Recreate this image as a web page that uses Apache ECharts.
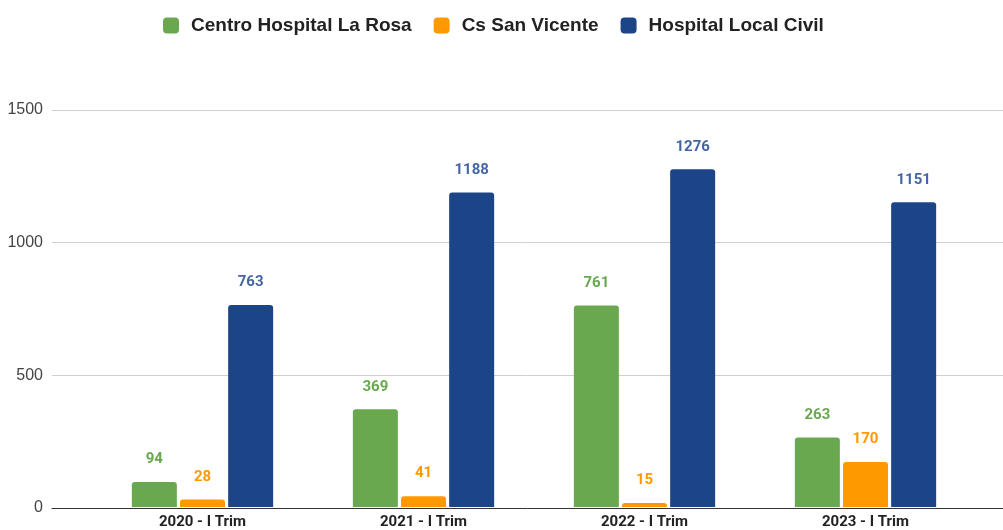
<!DOCTYPE html>
<html>
<head>
<meta charset="utf-8">
<script src="https://cdn.jsdelivr.net/npm/echarts@6/dist/echarts.min.js"></script>
<style>
html,body{margin:0;padding:0;background:#fff;}
#main{width:1003px;height:530px;}
</style>
</head>
<body>
<div id="main"></div>
<script>
var categories = ['2020 - I Trim', '2021 - I Trim', '2022 - I Trim', '2023 - I Trim'];
var seriesNames = ['Centro Hospital La Rosa', 'Cs San Vicente', 'Hospital Local Civil'];
var laRosa = [94, 369, 761, 263];
var sanVicente = [28, 41, 15, 170];
var localCivil = [763, 1188, 1276, 1151];
var yTicks = [0, 500, 1000, 1500];

var colors = ['#6aa84f', '#ff9900', '#1c4587'];
var labelColors = ['#6aa84f', '#ff9900', '#4666a3'];
var font = 'Roboto, "Liberation Sans", Arial, sans-serif';
var arial = '"Liberation Sans", Arial, sans-serif';

var myChart = echarts.init(document.getElementById('main'));

function barSeries(i, data){
	return {
		name: seriesNames[i],
		type: 'bar',
		xAxisIndex: 1,
		yAxisIndex: 1,
		barWidth: 45,
		barGap: '7%',
		itemStyle: {
			color: colors[i],
			borderRadius: [3, 3, 0, 0]
		},
		label: {
			show: true,
			position: 'top',
			distance: 15,
			color: labelColors[i],
			fontFamily: font,
			fontWeight: 'bold',
			fontSize: 15
		},
		data: data
	};
}

var option = {
	animation: false,
	color: colors,
	legend: {
		top: 11,
		left: 158,
		itemWidth: 16,
		itemHeight: 16,
		itemGap: 22,
		icon: 'roundRect',
		textStyle: {
			color: '#222',
			fontFamily: arial,
			fontWeight: 'bold',
			fontSize: 19,
			padding: [0, 0, 0, 7]
		},
		data: seriesNames
	},
	grid: [
		{left: 52, right: 0, top: 110, bottom: 22},
		{left: 92, right: 27, top: 110, bottom: 22}
	],
	xAxis: [
		{
			type: 'category',
			gridIndex: 0,
			data: [''],
			axisLine: {show: true, lineStyle: {color: '#333', width: 1}},
			axisTick: {show: false},
			axisLabel: {show: false}
		},
		{
			type: 'category',
			gridIndex: 1,
			data: categories,
			axisLine: {show: false},
			axisTick: {show: false},
			axisLabel: {
				color: '#222',
				fontFamily: font,
				fontWeight: 'bold',
				fontSize: 15,
				margin: 8
			}
		}
	],
	yAxis: [
		{
			type: 'value',
			gridIndex: 0,
			min: yTicks[0],
			max: yTicks[yTicks.length - 1],
			interval: 500,
			axisLine: {show: false},
			axisTick: {show: false},
			axisLabel: {
				color: '#444',
				fontFamily: arial,
				fontSize: 16,
				margin: 9,
				formatter: function(v){ return String(v); }
			},
			splitLine: {lineStyle: {color: '#d0d0d0'}}
		},
		{
			type: 'value',
			gridIndex: 1,
			min: yTicks[0],
			max: yTicks[yTicks.length - 1],
			interval: 500,
			axisLine: {show: false},
			axisTick: {show: false},
			axisLabel: {show: false},
			splitLine: {show: false}
		}
	],
	series: [
		barSeries(0, laRosa),
		barSeries(1, sanVicente),
		barSeries(2, localCivil)
	]
};

myChart.setOption(option);
</script>
</body>
</html>
